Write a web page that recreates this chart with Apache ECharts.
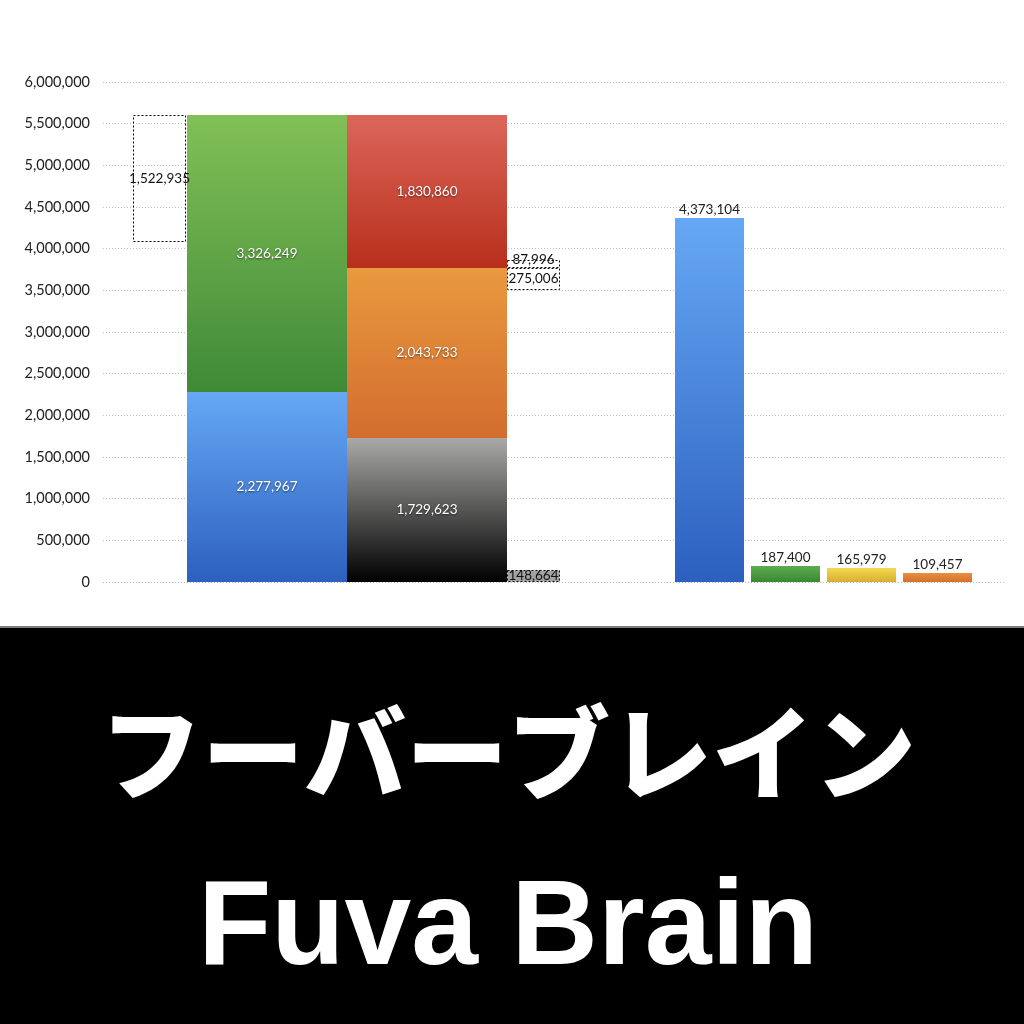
<!DOCTYPE html>
<html>
<head>
<meta charset="utf-8">
<script src="https://cdn.jsdelivr.net/npm/echarts@6/dist/echarts.min.js"></script>
<style>
html,body{margin:0;padding:0;background:#fff;}
#c{width:1024px;height:1024px;}
</style>
</head>
<body>
<div id="c"></div>
<script>
// ---- data ----
const salesBreakdown = [2277967, 3326249];          // blue, green (stacked)
const costBreakdown = [1729623, 2043733, 1830860];  // black, orange, red (stacked)
const diffTop = 1522935;                            // dotted box beside first bar
const diffMid = [275006, 87996];                    // dotted boxes around orange/red boundary
const diffBottom = 148664;                          // grey dotted box at base
const rightValues = [4373104, 187400, 165979, 109457];
const yTickStep = 500000;
const yMax = 6000000;
const titleJa = 'フーバーブレイン';
const titleEn = 'Fuva Brain';

// ---- layout (x slots in axis units) ----
const slots = {
  boxL: [0.565, 1.57],
  bar1: [1.575, 4.59],
  bar2: [4.59, 7.61],
  boxR: [7.61, 8.61],
  right: [[10.78, 12.08], [12.21, 13.51], [13.645, 14.945], [15.08, 16.38]]
};

function grad(top, bottom) {
  return new echarts.graphic.LinearGradient(0, 0, 0, 1, [
    {offset: 0, color: top}, {offset: 1, color: bottom}
  ]);
}
const fills = {
  blue: grad('#66a8f5', '#2c60bf'),
  green: grad('#82c057', '#3f8a37'),
  black: grad('#a9aaa8', '#000000'),
  orange: grad('#e9993f', '#d36d2e'),
  red: grad('#dc665b', '#b82f1b'),
  green2: grad('#5cad4f', '#3b8733'),
  yellow: grad('#f3d94d', '#d6ae33'),
  orange2: grad('#ea8f3d', '#d4702c')
};

const marks = [];
let acc = 0;
['blue', 'green'].forEach((f, i) => {
  marks.push({slot: slots.bar1, y0: acc, y1: acc + salesBreakdown[i], v: salesBreakdown[i], kind: 'inside', fill: fills[f]});
  acc += salesBreakdown[i];
});
const total = acc;
marks.push({slot: slots.boxL, y0: total - diffTop, y1: total, v: diffTop, kind: 'dashed'});
acc = 0;
['black', 'orange', 'red'].forEach((f, i) => {
  marks.push({slot: slots.bar2, y0: acc, y1: acc + costBreakdown[i], v: costBreakdown[i], kind: 'inside', fill: fills[f]});
  acc += costBreakdown[i];
});
const orangeTop = costBreakdown[0] + costBreakdown[1];
marks.push({slot: slots.boxR, y0: orangeTop - diffMid[0], y1: orangeTop, v: diffMid[0], kind: 'dashed'});
marks.push({slot: slots.boxR, y0: orangeTop, y1: orangeTop + diffMid[1], v: diffMid[1], kind: 'dashed', dy: -4});
marks.push({slot: slots.boxR, y0: 0, y1: diffBottom, v: diffBottom, kind: 'dashedGrey'});
['blue', 'green2', 'yellow', 'orange2'].forEach((f, i) => {
  marks.push({slot: slots.right[i], y0: 0, y1: rightValues[i], v: rightValues[i], kind: 'top', fill: fills[f]});
});

const seriesData = marks.map((m, i) => [m.slot[0], m.slot[1], m.y0, m.y1, i]);
const fmt = v => v.toLocaleString('en-US');
const FONT = 'Lato, "Noto Sans", sans-serif';

function renderItem(params, api) {
  const m = marks[api.value(4)];
  const p0 = api.coord([api.value(0), api.value(2)]);
  const p1 = api.coord([api.value(1), api.value(3)]);
  const x = Math.round(p0[0]), x2 = Math.round(p1[0]);
  const yb = Math.round(p0[1]), yt = Math.round(p1[1]);
  const children = [];
  let rectStyle;
  if (m.kind === 'dashed') {
    rectStyle = {fill: null, stroke: '#000', lineWidth: 1, lineDash: [2, 2]};
  } else if (m.kind === 'dashedGrey') {
    rectStyle = {fill: '#a2a2a2', stroke: '#000', lineWidth: 1, lineDash: [2, 2]};
  } else {
    rectStyle = {fill: m.fill};
  }
  const isLine = m.kind === 'dashed' || m.kind === 'dashedGrey';
  children.push({
    type: 'rect',
    shape: {x: isLine ? x + 0.5 : x, y: isLine ? yt + 0.5 : yt, width: x2 - x - (isLine ? 1 : 0), height: yb - yt - (isLine ? 1 : 0)},
    style: rectStyle
  });
  const cx = (x + x2) / 2;
  let ty = (yt + yb) / 2 + (m.dy || 0);
  const ts = {
    text: fmt(m.v), x: cx, y: ty, align: 'center', verticalAlign: 'middle',
    font: '13.5px ' + FONT, fill: '#111'
  };
  if (m.kind === 'inside') {
    ts.fill = '#ffffff';
    ts.textShadowColor = 'rgba(0,0,0,0.55)';
    ts.textShadowBlur = 2;
    ts.textShadowOffsetX = 0;
    ts.textShadowOffsetY = 1;
  } else if (m.kind === 'top') {
    ts.y = yt - 1;
    ts.verticalAlign = 'bottom';
    ts.fill = '#222';
  }
  children.push({type: 'text', z2: 100, style: ts});
  return {type: 'group', children};
}

const chart = echarts.init(document.getElementById('c'));
chart.setOption({
  backgroundColor: '#ffffff',
  animation: false,
  grid: {left: 103, right: 19, top: 82, height: 500},
  xAxis: {type: 'value', min: 0, max: 17, show: false},
  yAxis: {
    type: 'value', min: 0, max: yMax, interval: yTickStep,
    axisLine: {show: false}, axisTick: {show: false},
    axisLabel: {
      margin: 13, color: '#222', fontSize: 14.5, fontFamily: FONT,
      formatter: v => fmt(v)
    },
    splitLine: {lineStyle: {type: [1, 2], color: '#bdbdbd', width: 1}}
  },
  series: [{
    type: 'custom',
    renderItem: renderItem,
    encode: {x: [0, 1], y: [2, 3]},
    data: seriesData,
    clip: false
  }],
  graphic: [
    {type: 'rect', left: 0, top: 626, shape: {width: 1024, height: 398}, style: {fill: '#000'}, z: 10},
    {type: 'rect', left: 0, top: 626, shape: {width: 1024, height: 2}, style: {fill: '#7c7c7c'}, z: 11},
    {type: 'text', z: 12, style: {
      text: titleJa, x: 508, y: 753, align: 'center', verticalAlign: 'middle',
      font: '900 102px "Noto Sans CJK JP", sans-serif', fill: '#fff'
    }},
    {type: 'text', z: 12, style: {
      text: titleEn, x: 508, y: 931, align: 'center', verticalAlign: 'middle',
      font: 'bold 120px "Liberation Sans", Arial, sans-serif', fill: '#fff'
    }}
  ]
});
</script>
</body>
</html>
